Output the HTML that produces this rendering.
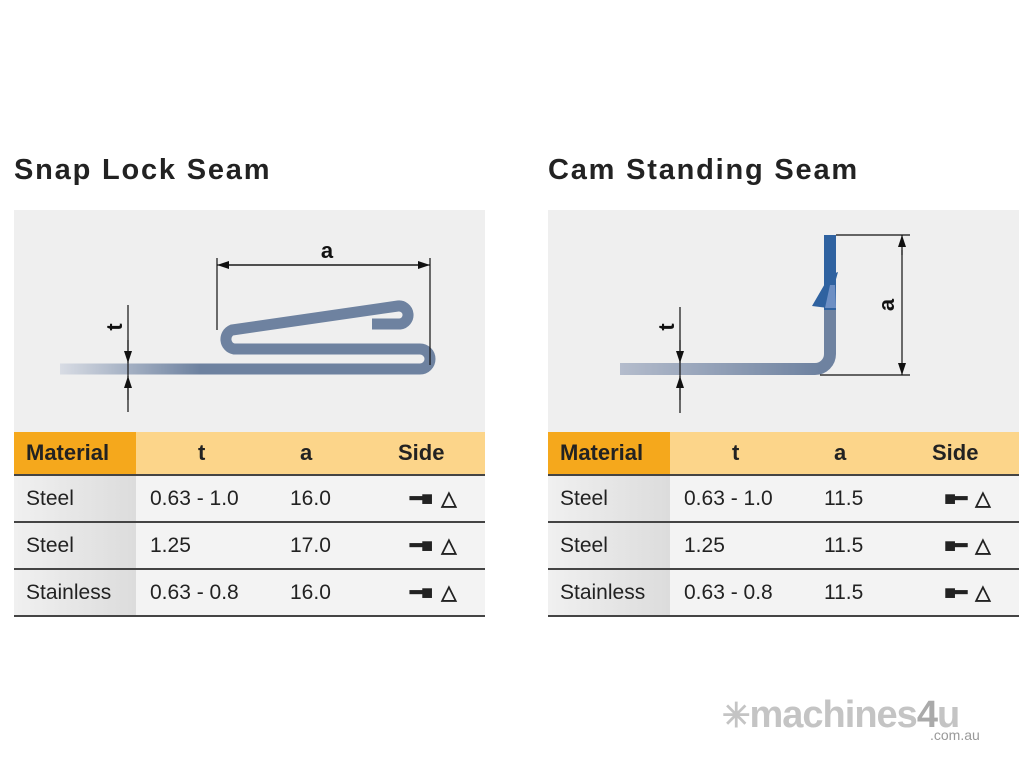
<!DOCTYPE html>
<html><head><meta charset="utf-8"><style>
body{margin:0;width:1024px;height:768px;background:#fff;font-family:"Liberation Sans",Arial,sans-serif;position:relative;overflow:hidden}
.title{position:absolute;top:154px;font-size:29px;font-weight:bold;color:#222;letter-spacing:1.8px}
.panel{position:absolute;top:210px;width:471px}
.diag{height:222px;background:#efefef}
table{border-collapse:collapse;width:471px;font-size:21px;color:#222;table-layout:fixed}
th{height:42px;background:#fcd58a;font-weight:bold;text-align:left;padding:0;font-size:22px}
th.m{background:#f5a81c;padding-left:12px}
td{height:45px;border-top:2px solid #444;background:#f3f3f3;padding:0}
td.m{background:linear-gradient(90deg,#f0f0f0,#dcdcdc);padding-left:12px}
tr:last-child td{border-bottom:2px solid #444}
.ic{font-size:20px;font-weight:bold;letter-spacing:-1px}
</style></head><body>
<div class="title" style="left:14px">Snap Lock Seam</div>
<div class="title" style="left:548px">Cam Standing Seam</div>

<div class="panel" style="left:14px">
<div class="diag"><svg width="471" height="222" viewBox="14 210 471 222">
<defs><linearGradient id="g1" x1="60" x2="200" gradientUnits="userSpaceOnUse"><stop offset="0" stop-color="#d8dce4"/><stop offset="1" stop-color="#6e82a0"/></linearGradient>
<marker id="ar" markerWidth="12" markerHeight="8" refX="12" refY="4" orient="auto" markerUnits="userSpaceOnUse"><path d="M0,0L12,4L0,8z" fill="#111"/></marker></defs>
<path d="M60,369 H420 A10,10 0 0 0 420,349 H234 A10,10 0 0 1 232,330 L398,306 A9,9 0 0 1 400,324 H372" fill="none" stroke="url(#g1)" stroke-width="11"/>
<path d="M217,258V330M430,258V365M128,305V412" stroke="#111" stroke-width="1.2" fill="none"/>
<path d="M224,265H430" stroke="#111" stroke-width="1.2" marker-end="url(#ar)"/>
<path d="M424,265H217" stroke="#111" stroke-width="1.2" marker-end="url(#ar)"/>
<path d="M128,340V363" stroke="#111" stroke-width="1.2" marker-end="url(#ar)"/>
<path d="M128,400V376" stroke="#111" stroke-width="1.2" marker-end="url(#ar)"/>
<text x="327" y="258" font-size="22" font-weight="bold" text-anchor="middle" fill="#111">a</text>
<text transform="translate(122,327) rotate(-90)" font-size="22" font-weight="bold" text-anchor="middle" fill="#111">t</text>
</svg></div>
<table><colgroup><col style="width:122px"><col style="width:140px"><col style="width:100px"><col></colgroup>
<tr><th class="m">Material</th><th style="padding-left:62px">t</th><th style="padding-left:24px">a</th><th style="padding-left:22px">Side</th></tr>
<tr><td class="m">Steel</td><td style="padding-left:14px">0.63 - 1.0</td><td style="padding-left:14px">16.0</td><td class="ic" style="padding-left:34px">━■&nbsp;&nbsp;△</td></tr>
<tr><td class="m">Steel</td><td style="padding-left:14px">1.25</td><td style="padding-left:14px">17.0</td><td class="ic" style="padding-left:34px">━■&nbsp;&nbsp;△</td></tr>
<tr><td class="m">Stainless</td><td style="padding-left:14px">0.63 - 0.8</td><td style="padding-left:14px">16.0</td><td class="ic" style="padding-left:34px">━■&nbsp;&nbsp;△</td></tr></table>
</div>

<div class="panel" style="left:548px">
<div class="diag"><svg width="471" height="222" viewBox="548 210 471 222">
<defs><linearGradient id="g2" x1="620" x2="820" gradientUnits="userSpaceOnUse"><stop offset="0" stop-color="#b4bccc"/><stop offset="1" stop-color="#6e82a0"/></linearGradient>
<marker id="ar2" markerWidth="12" markerHeight="8" refX="12" refY="4" orient="auto" markerUnits="userSpaceOnUse"><path d="M0,0L12,4L0,8z" fill="#111"/></marker></defs>
<path d="M620,369 H815 A15,15 0 0 0 830,354 V308" fill="none" stroke="url(#g2)" stroke-width="12"/>
<path d="M830,310 V235" stroke="#2f62a0" stroke-width="12"/>
<path d="M830,275 L838,272 L828,308 L812,306z" fill="#2f62a0"/>
<path d="M830,285 L835,285 L836,308 L825,308z" fill="#6d8fc4"/>
<path d="M836,235H910M820,375H910M680,307V413" stroke="#111" stroke-width="1.2"/>
<path d="M902,255V235" stroke="#111" stroke-width="1.2" marker-end="url(#ar2)"/>
<path d="M902,250V375" stroke="#111" stroke-width="1.2" marker-end="url(#ar2)"/>
<path d="M680,340V363" stroke="#111" stroke-width="1.2" marker-end="url(#ar2)"/>
<path d="M680,400V376" stroke="#111" stroke-width="1.2" marker-end="url(#ar2)"/>
<text transform="translate(894,305) rotate(-90)" font-size="22" font-weight="bold" text-anchor="middle" fill="#111">a</text>
<text transform="translate(674,327) rotate(-90)" font-size="22" font-weight="bold" text-anchor="middle" fill="#111">t</text>
</svg></div>
<table><colgroup><col style="width:122px"><col style="width:140px"><col style="width:100px"><col></colgroup>
<tr><th class="m">Material</th><th style="padding-left:62px">t</th><th style="padding-left:24px">a</th><th style="padding-left:22px">Side</th></tr>
<tr><td class="m">Steel</td><td style="padding-left:14px">0.63 - 1.0</td><td style="padding-left:14px">11.5</td><td class="ic" style="padding-left:34px">■━&nbsp;&nbsp;△</td></tr>
<tr><td class="m">Steel</td><td style="padding-left:14px">1.25</td><td style="padding-left:14px">11.5</td><td class="ic" style="padding-left:34px">■━&nbsp;&nbsp;△</td></tr>
<tr><td class="m">Stainless</td><td style="padding-left:14px">0.63 - 0.8</td><td style="padding-left:14px">11.5</td><td class="ic" style="padding-left:34px">■━&nbsp;&nbsp;△</td></tr></table>
</div>

<div style="position:absolute;left:722px;top:694px;font-size:38px;font-weight:bold;color:#c4c4c4;letter-spacing:-1px;white-space:nowrap"><span style="font-size:34px">✳</span>machines<span style="color:#aaa">4</span>u</div>
<div style="position:absolute;left:930px;top:727px;font-size:14px;color:#999">.com.au</div>
</body></html>
